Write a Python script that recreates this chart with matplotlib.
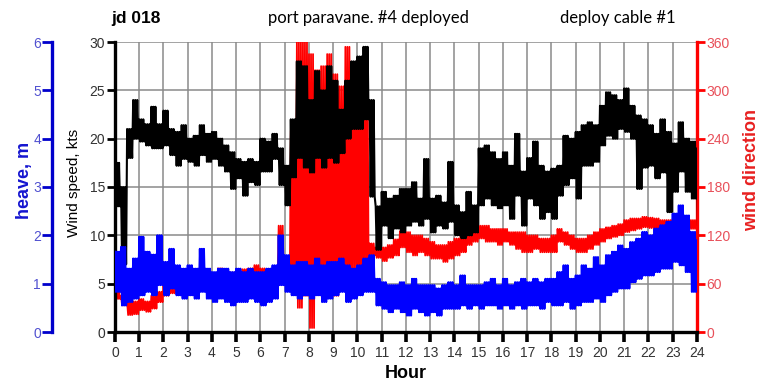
import numpy as np
import matplotlib
matplotlib.use("Agg")
import matplotlib.pyplot as plt

plt.rcParams['font.family'] = ['Liberation Sans', 'DejaVu Sans']

# quarter-hour samples, each with an upper and lower excursion
hours = np.arange(97) * 0.25

wind_hi = [17.5, 15, 21, 24, 22, 21.5, 23.3, 21.5, 22.9, 21, 20.7, 21.4, 20, 20.3, 21.4, 20.5,
           20.7, 20, 19.3, 18.6, 17.9, 17.6, 17.9, 17.6, 20, 19.7, 20.5, 19, 17.2, 22, 28, 27.5,
           24, 27, 25, 27.5, 26, 23, 26, 28, 28.5, 29.5, 24, 13, 14.5, 13.8, 14.1, 14.8,
           14.8, 15.5, 13.8, 17.9, 13.8, 14.1, 13.4, 17.6, 13.1, 12.4, 14.5, 13.1, 19, 19.3, 18.6, 17.9,
           18.6, 17.2, 20.5, 16.6, 18, 19.7, 17.2, 16.6, 16.9, 17.2, 20.3, 20, 20.7, 21.4, 21.7, 21.4,
           23.4, 24.8, 24.5, 24, 25.2, 23.4, 22.4, 22, 21.4, 20.5, 22, 20.7, 19.5, 21.7, 20, 19.7, 19]
wind_lo = [13, 7, 18, 20, 19.7, 19.3, 19, 19, 19.3, 18.3, 17.2, 17.9, 17.6, 17.2, 18.3, 17.6,
           17.9, 17.2, 16.6, 14.8, 15.9, 14.1, 15.5, 15.2, 16.6, 16.6, 17.9, 15.2, 13.1, 16, 18, 17,
           16.5, 18, 17, 18, 17.5, 18.5, 20, 21, 21, 22, 14, 8.5, 11, 9.7, 10.7, 10.3,
           11, 11.4, 11, 11.7, 10.3, 11, 10.7, 11.4, 10, 9.7, 10, 10.3, 13.1, 13.8, 13.1, 12.8,
           13.1, 11.7, 14.1, 11, 13.8, 13.1, 11.7, 12.4, 11.7, 14.1, 15.2, 15.9, 13.8, 17.2, 17.2, 17.6,
           19.3, 20.3, 20, 21, 20.7, 20, 14.8, 17, 17.2, 15.9, 16.5, 12.4, 14.5, 16.6, 14.5, 13.8, 11]

dir_hi = [50, 45, 37, 38, 41, 38, 45, 50, 58, 60, 64, 66, 66, 68, 66, 68,
          70, 79, 76, 74, 75, 78, 79, 83, 79, 78, 74, 132, 75, 250, 360, 360,
          345, 325, 330, 345, 320, 305, 354, 330, 325, 330, 110, 105, 105, 108, 115, 125,
          124, 120, 120, 116, 112, 108, 108, 112, 116, 120, 128, 132, 132, 132, 128, 128,
          128, 124, 124, 124, 120, 120, 116, 116, 120, 128, 124, 120, 116, 116, 120, 124,
          128, 130, 132, 134, 139, 141, 141, 143, 142, 141, 139, 139, 141, 141, 141, 139, 139]
dir_lo = [41, 33, 21, 22, 27, 25, 29, 37, 45, 48, 52, 54, 56, 56, 55, 58,
          58, 62, 64, 62, 62, 64, 66, 66, 66, 62, 60, 62, 62, 60, 30, 45,
          5, 48, 40, 55, 45, 58, 50, 62, 55, 70, 95, 92, 88, 92, 95, 105,
          99, 95, 99, 95, 91, 91, 87, 91, 95, 99, 108, 112, 116, 112, 112, 108,
          112, 108, 103, 99, 99, 103, 99, 99, 99, 112, 108, 103, 99, 99, 103, 108,
          112, 116, 118, 120, 124, 126, 128, 130, 129, 127, 126, 126, 128, 128, 128, 128, 128]

heave_hi = [1.66, 1.76, 1.31, 1.52, 1.97, 1.66, 1.6, 2.0, 1.45, 1.72, 1.38, 1.31, 1.38, 1.31, 1.72, 1.31,
            1.24, 1.31, 1.31, 1.24, 1.31, 1.24, 1.31, 1.24, 1.24, 1.31, 1.38, 2.0, 1.59, 1.38, 1.45, 1.45,
            1.38, 1.52, 1.38, 1.45, 1.45, 1.52, 1.38, 1.31, 1.38, 1.52, 1.59, 1.1, 1.03, 0.97, 0.97, 1.03,
            0.97, 1.1, 0.97, 0.97, 0.97, 0.9, 0.97, 1.03, 0.97, 1.17, 0.97, 0.97, 0.97, 1.03, 1.1, 0.97,
            1.1, 0.97, 1.03, 1.1, 1.03, 1.1, 1.03, 1.1, 1.1, 1.24, 1.38, 1.1, 1.17, 1.38, 1.31, 1.55,
            1.38, 1.59, 1.66, 1.79, 1.72, 1.86, 1.93, 2.07, 2.0, 2.14, 2.21, 2.28, 2.45, 2.62, 2.41, 2.07, 1.9]
heave_lo = [0.83, 0.55, 0.62, 0.69, 0.76, 0.83, 0.76, 0.97, 0.76, 0.9, 0.76, 0.69, 0.76, 0.69, 0.83, 0.69,
            0.62, 0.69, 0.62, 0.55, 0.62, 0.62, 0.69, 0.62, 0.55, 0.62, 0.69, 0.97, 0.83, 0.76, 0.69, 0.76,
            0.69, 0.76, 0.62, 0.69, 0.76, 0.83, 0.62, 0.69, 0.76, 0.83, 0.83, 0.55, 0.48, 0.41, 0.48, 0.41,
            0.34, 0.48, 0.41, 0.34, 0.41, 0.34, 0.48, 0.48, 0.48, 0.55, 0.48, 0.55, 0.48, 0.55, 0.55, 0.48,
            0.55, 0.48, 0.55, 0.48, 0.55, 0.55, 0.48, 0.62, 0.55, 0.55, 0.62, 0.48, 0.55, 0.62, 0.62, 0.69,
            0.62, 0.76, 0.83, 0.9, 0.9, 1.03, 1.1, 1.17, 1.17, 1.24, 1.31, 1.31, 1.45, 1.38, 1.24, 0.83, 1.1]

hour_ticks = list(range(0, 25))
wind_ticks = [0, 5, 10, 15, 20, 25, 30]
dir_ticks = [0, 60, 120, 180, 240, 300, 360]
heave_ticks = [0, 1, 2, 3, 4, 5, 6]


def zigzag(hi, lo, reps=3):
    # swing between the high and low excursion of each sample a few times
    n = 2 * reps
    step = 0.25 / n
    t = (hours[:, None] + step * np.arange(n)[None, :]).ravel()
    y = np.empty((len(hours), n))
    y[:, 0::2] = np.asarray(hi)[:, None]
    y[:, 1::2] = np.asarray(lo)[:, None]
    return t, y.ravel()


W, H = 778, 382
fig = plt.figure(figsize=(W / 100, H / 100), dpi=100)
rect = [115 / W, 50 / H, 582 / W, 290 / H]

ax_d = fig.add_axes(rect)
ax_w = fig.add_axes(rect, sharex=ax_d)
ax_h = fig.add_axes(rect, sharex=ax_d)
for a in (ax_w, ax_h):
    a.patch.set_visible(False)

# wind direction (drawn first, underneath)
t, y = zigzag(dir_hi, dir_lo)
ax_d.plot(t, y, color='#ff0000', lw=1.3)
ax_d.set_ylim(0, 360)
ax_d.set_yticks(dir_ticks)
ax_d.yaxis.tick_right()
ax_d.grid(True, color='#8a8a8a', lw=1.1)
ax_d.set_axisbelow(True)
for s in ('left', 'top', 'bottom'):
    ax_d.spines[s].set_visible(False)
ax_d.spines['right'].set_color('#ff0000')
ax_d.spines['right'].set_linewidth(2.4)
ax_d.tick_params(axis='y', direction='out', length=6, width=2, color='#ff0000',
                 labelcolor='#e8505a', labelsize=10, pad=1)
ax_d.tick_params(axis='x', bottom=False, labelbottom=False)

# wind speed
t, y = zigzag(wind_hi, wind_lo)
ax_w.plot(t, y, color='black', lw=1.5)
ax_w.set_ylim(0, 30)
ax_w.set_yticks(wind_ticks)
ax_w.set_xlim(0, 24)
ax_w.set_xticks(hour_ticks)
for s in ('right', 'top'):
    ax_w.spines[s].set_visible(False)
ax_w.spines['left'].set_linewidth(2.4)
ax_w.spines['bottom'].set_linewidth(2.4)
ax_w.tick_params(axis='y', direction='out', length=6, width=2, labelcolor='#333333',
                 labelsize=10, pad=1)
ax_w.tick_params(axis='x', direction='out', length=7, width=2.6, labelcolor='#333333',
                 labelsize=10, pad=3)

# heave on the outer left axis
t, y = zigzag(heave_hi, heave_lo)
ax_h.plot(t, y, color='#0000ff', lw=1.5)
ax_h.set_ylim(0, 6)
ax_h.set_yticks(heave_ticks)
for s in ('right', 'top', 'bottom'):
    ax_h.spines[s].set_visible(False)
ax_h.spines['left'].set_position(('outward', 63 * 0.72))
ax_h.spines['left'].set_color('#0000cc')
ax_h.spines['left'].set_linewidth(2.4)
ax_h.tick_params(axis='y', direction='out', length=7, width=2, color='#0000cc',
                 labelcolor='#5050d0', labelsize=10, pad=1)
ax_h.tick_params(axis='x', bottom=False, labelbottom=False)
ax_d.set_xlim(0, 24)

fig.text(25 / W, 1 - 180 / H, 'heave, m', color='#1515d0', fontsize=13, fontweight='bold',
         rotation=90, ha='center', va='center')
fig.text(74 / W, 1 - 183 / H, 'Wind speed, kts', color='black', fontsize=11,
         rotation=90, ha='center', va='center')
fig.text(752 / W, 1 - 170 / H, 'wind direction', color='#e82020', fontsize=13, fontweight='bold',
         rotation=90, ha='center', va='center')
fig.text(406 / W, 1 - 373 / H, 'Hour', color='black', fontsize=13, fontweight='bold',
         ha='center', va='center')

fig.text(136 / W, 1 - 18 / H, 'jd 018', fontsize=12.5, fontweight='bold', ha='center', va='center')
fig.text(368 / W, 1 - 18 / H, 'port paravane. #4 deployed', family=['Lato', 'DejaVu Sans'],
         fontsize=12, ha='center', va='center')
fig.text(618 / W, 1 - 18 / H, 'deploy cable #1', family=['Lato', 'DejaVu Sans'],
         fontsize=12, ha='center', va='center')

fig.savefig('out.png', dpi=100)
